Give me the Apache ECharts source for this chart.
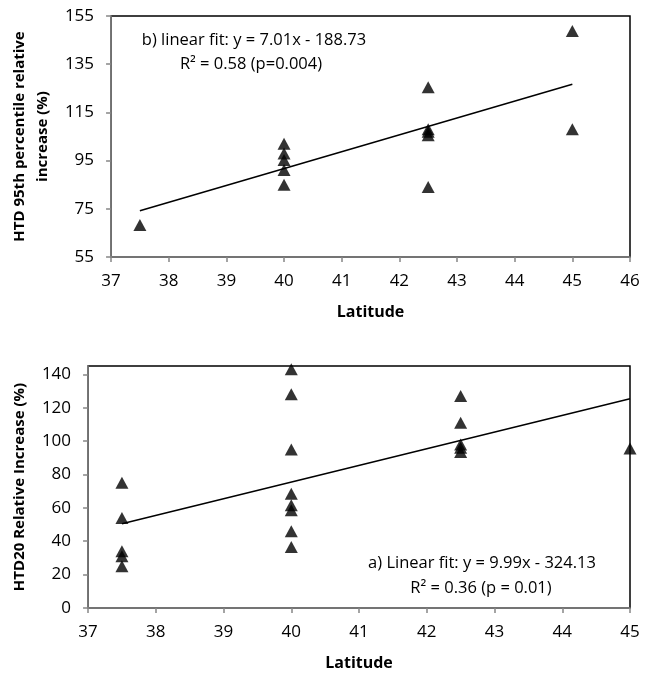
<!DOCTYPE html>
<html>
<head>
<meta charset="utf-8">
<script src="https://cdn.jsdelivr.net/npm/echarts@6/dist/echarts.min.js"></script>
<style>
  html, body { margin: 0; padding: 0; background: #fff; }
  #chart { width: 650px; height: 673px; }
</style>
</head>
<body>
<div id="chart"></div>
<script>
// b) HTD 95th percentile relative increase vs latitude
const latTop = [37.5, 40, 40, 40, 40, 40, 42.5, 42.5, 42.5, 42.5, 42.5, 45, 45];
const valTop = [68.3, 102, 97.9, 95.3, 91.1, 85, 125.4, 108, 107, 105.5, 84, 148.8, 108];
const fitTop = [[37.5, 74.2], [45, 126.7]];

// a) HTD20 relative increase vs latitude
const latBottom = [37.5, 37.5, 37.5, 37.5, 37.5,
  40, 40, 40, 40, 40, 40, 40, 40,
  42.5, 42.5, 42.5, 42.5, 42.5, 45];
const valBottom = [75, 54, 34, 31, 25,
  143, 128, 95, 68.5, 61.5, 58.5, 46, 36.5,
  127, 111, 98, 96, 93.5, 95.5];
const fitBottom = [[37.5, 50.5], [45, 125.4]];

const yTicksBottom = [0, 20, 40, 60, 80, 100, 120, 140];

const FONT = 'Open Sans';

const pairs = (xs, ys) => xs.map((x, i) => [x, ys[i]]);

function xAxisFor(gridIndex, max) {
  return {
    type: 'value', gridIndex: gridIndex,
    min: 37, max: max, interval: 1,
    name: 'Latitude', nameLocation: 'middle', nameGap: 47,
    nameTextStyle: { fontFamily: FONT, fontWeight: 'bold', fontSize: 16, color: '#000' },
    splitLine: { show: false },
    axisLine: { lineStyle: { color: '#868686', width: 1.5 } },
    axisTick: { inside: false, length: 5, lineStyle: { color: '#868686', width: 1.5 } },
    axisLabel: { fontFamily: FONT, fontSize: 17, color: '#000', margin: 16 }
  };
}

function yAxisFor(gridIndex, opts) {
  return Object.assign({
    type: 'value', gridIndex: gridIndex,
    nameLocation: 'middle', nameRotate: 90,
    nameTextStyle: { fontFamily: FONT, fontWeight: 'bold', fontSize: 15, color: '#000', lineHeight: 23 },
    splitLine: { show: false },
    axisLine: { lineStyle: { color: '#868686', width: 1.5 } },
    axisTick: { inside: false, length: 5, lineStyle: { color: '#868686', width: 1.5 } },
    axisLabel: { fontFamily: FONT, fontSize: 17, color: '#000', margin: 17 }
  }, opts);
}

const chart = echarts.init(document.getElementById('chart'));

const option = {
  animation: false,
  backgroundColor: '#fff',
  grid: [
    { left: 110, top: 16, width: 520, height: 241, show: true, borderColor: '#000', borderWidth: 1.5 },
    { left: 88, top: 366, width: 542, height: 242, show: true, borderColor: '#000', borderWidth: 1.5 }
  ],
  xAxis: [xAxisFor(0, 46), xAxisFor(1, 45)],
  yAxis: [
    yAxisFor(0, { min: 55, max: 155, interval: 20, nameGap: 53,
      name: 'HTD 95th percentile relative\nincrease (%)' }),
    yAxisFor(1, { min: 0, max: 145, interval: 20, nameGap: 54,
      name: 'HTD20 Relative Increase (%)',
      axisLabel: { fontFamily: FONT, fontSize: 17, color: '#000', margin: 17, customValues: yTicksBottom },
      axisTick: { inside: false, length: 5, lineStyle: { color: '#868686', width: 1.5 }, customValues: yTicksBottom } })
  ],
  series: [
    { type: 'line', xAxisIndex: 0, yAxisIndex: 0, data: fitTop, symbol: 'none',
      lineStyle: { color: '#000', width: 1.5 }, z: 2 },
    { type: 'scatter', xAxisIndex: 0, yAxisIndex: 0, data: pairs(latTop, valTop),
      symbol: 'triangle', symbolSize: [13, 12], itemStyle: { color: '#000' }, z: 3 },
    { type: 'line', xAxisIndex: 1, yAxisIndex: 1, data: fitBottom, symbol: 'none',
      lineStyle: { color: '#000', width: 1.5 }, z: 2 },
    { type: 'scatter', xAxisIndex: 1, yAxisIndex: 1, data: pairs(latBottom, valBottom),
      symbol: 'triangle', symbolSize: [13, 12], itemStyle: { color: '#000' }, z: 3 }
  ],
  graphic: [
    { type: 'text', x: 254, y: 40, style: { text: 'b) linear fit: y = 7.01x - 188.73', fontFamily: FONT, fontSize: 16.5,
        fill: '#000', align: 'center', verticalAlign: 'middle' } },
    { type: 'text', x: 251, y: 64, style: { text: 'R² = 0.58 (p=0.004)', fontFamily: FONT, fontSize: 16.5,
        fill: '#000', align: 'center', verticalAlign: 'middle' } },
    { type: 'text', x: 482, y: 563, style: { text: 'a) Linear fit: y = 9.99x - 324.13', fontFamily: FONT, fontSize: 16.5,
        fill: '#000', align: 'center', verticalAlign: 'middle' } },
    { type: 'text', x: 481, y: 588, style: { text: 'R² = 0.36 (p = 0.01)', fontFamily: FONT, fontSize: 16.5,
        fill: '#000', align: 'center', verticalAlign: 'middle' } }
  ]
};

chart.setOption(option);
</script>
</body>
</html>
